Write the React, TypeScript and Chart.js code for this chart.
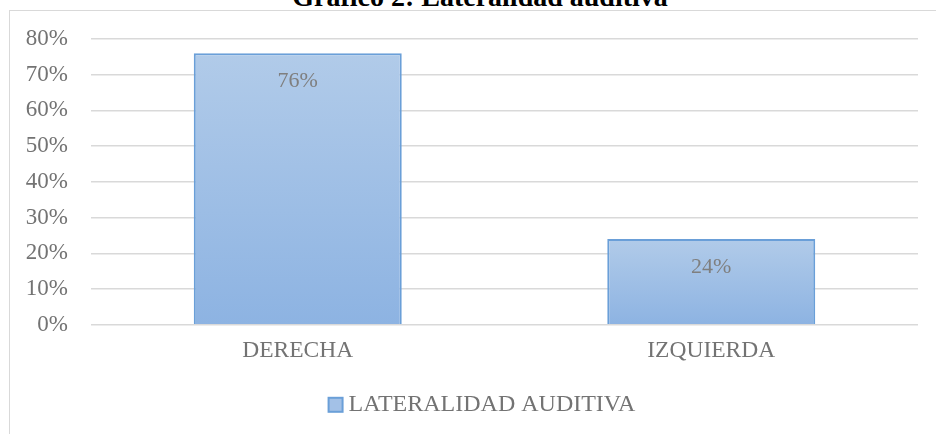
import React, { useEffect, useRef } from "react";
import { Chart, registerables } from "chart.js";

Chart.register(...registerables);

const titleText = "Gráfico 2: Lateralidad auditiva";
const categories = ["DERECHA", "IZQUIERDA"];
const seriesName = "LATERALIDAD AUDITIVA";
const seriesValues = [0.76, 0.24];
const yTicksMax = 0.8;
const yTickStep = 0.1;

const FONT = "'Liberation Serif', 'Times New Roman', serif";
const TEXT = "#737373";
const GRID = "#d9d9d9";
const BAR_TOP = "#b1cbe9";
const BAR_BOTTOM = "#8db3e2";
const BAR_BORDER = "#6a9fd8";

const pct = (v: number) => Math.round(v * 100) + "%";

const dataLabelPlugin = {
  id: "dataLabels",
  afterDatasetsDraw(chart: any) {
    const ctx = chart.ctx;
    const meta = chart.getDatasetMeta(0);
    ctx.save();
    ctx.font = `22px ${FONT}`;
    ctx.fillStyle = "#7f7f7f";
    ctx.textAlign = "center";
    ctx.textBaseline = "middle";
    meta.data.forEach((bar: any, i: number) => {
      ctx.fillText(pct(seriesValues[i]), bar.x, bar.y + 28);
    });
    ctx.restore();
  },
};

const legendPlugin = {
  id: "customLegend",
  afterDraw(chart: any) {
    const ctx = chart.ctx;
    ctx.save();
    ctx.font = `24px ${FONT}`;
    const tw = ctx.measureText(seriesName).width;
    const box = 14;
    const gap = 6;
    const total = box + gap + tw;
    const cx = chart.width / 2 + 14;
    const cy = chart.chartArea.bottom + 80;
    const x0 = cx - total / 2;
    ctx.fillStyle = "#a3c1e7";
    ctx.fillRect(x0, cy - box / 2, box, box);
    ctx.strokeStyle = BAR_BORDER;
    ctx.lineWidth = 2;
    ctx.strokeRect(x0, cy - box / 2, box, box);
    ctx.fillStyle = TEXT;
    ctx.textAlign = "left";
    ctx.textBaseline = "middle";
    ctx.fillText(seriesName, x0 + box + gap, cy);
    ctx.restore();
  },
};

export default function App() {
  const ref = useRef<HTMLCanvasElement | null>(null);

  useEffect(() => {
    if (!ref.current) return;
    const chart = new Chart(ref.current, {
      type: "bar",
      data: {
        labels: categories,
        datasets: [
          {
            label: seriesName,
            data: seriesValues,
            backgroundColor: (c: any) => {
              const ch = c.chart;
              const y = ch.scales && ch.scales.y;
              if (!y || c.dataIndex === undefined) return BAR_BOTTOM;
              const top = y.getPixelForValue(seriesValues[c.dataIndex]);
              const bottom = y.getPixelForValue(0);
              if (!isFinite(top) || !isFinite(bottom) || top === bottom) return BAR_BOTTOM;
              const g = ch.ctx.createLinearGradient(0, top, 0, bottom);
              g.addColorStop(0, BAR_TOP);
              g.addColorStop(1, BAR_BOTTOM);
              return g;
            },
            borderColor: BAR_BORDER,
            borderWidth: 2,
            categoryPercentage: 1,
            barPercentage: 0.503,
          },
        ],
      },
      options: {
        responsive: false,
        animation: false,
        layout: { padding: { top: 39, right: 18, bottom: 65, left: 0 } },
        plugins: {
          title: { display: false },
          tooltip: { enabled: false },
          legend: { display: false },
        },
        scales: {
          x: {
            grid: { display: false },
            border: { display: false },
            ticks: {
              color: TEXT,
              padding: 4,
              font: { family: FONT, size: 23.5 },
            },
          },
          y: {
            min: 0,
            max: yTicksMax,
            afterFit: (s: any) => {
              s.width = 91;
            },
            grid: { color: GRID, lineWidth: 1.5, drawTicks: false },
            border: { display: false },
            ticks: {
              stepSize: yTickStep,
              padding: 23,
              color: TEXT,
              font: { family: FONT, size: 23 },
              callback: (v: any) => pct(Number(v)),
            },
          },
        },
      },
      plugins: [dataLabelPlugin, legendPlugin],
    } as any);
    return () => chart.destroy();
  }, []);

  return (
    <div
      style={{
        position: "fixed",
        left: 0,
        top: 0,
        width: 936,
        height: 434,
        overflow: "hidden",
        background: "#fff",
      }}
    >
      <div
        style={{
          position: "absolute",
          left: 9,
          top: 10,
          width: 1000,
          height: 1000,
          border: `1px solid ${GRID}`,
        }}
      />
      <div
        style={{
          position: "absolute",
          left: 0,
          width: 960,
          top: -17,
          textAlign: "center",
          fontFamily: FONT,
          fontWeight: "bold",
          fontSize: 28,
          lineHeight: "28px",
          color: "#000",
          whiteSpace: "nowrap",
        }}
      >
        {titleText}
      </div>
      <canvas
        ref={ref}
        width={936}
        height={434}
        style={{ position: "absolute", left: 0, top: 0, width: 936, height: 434 }}
      />
    </div>
  );
}
